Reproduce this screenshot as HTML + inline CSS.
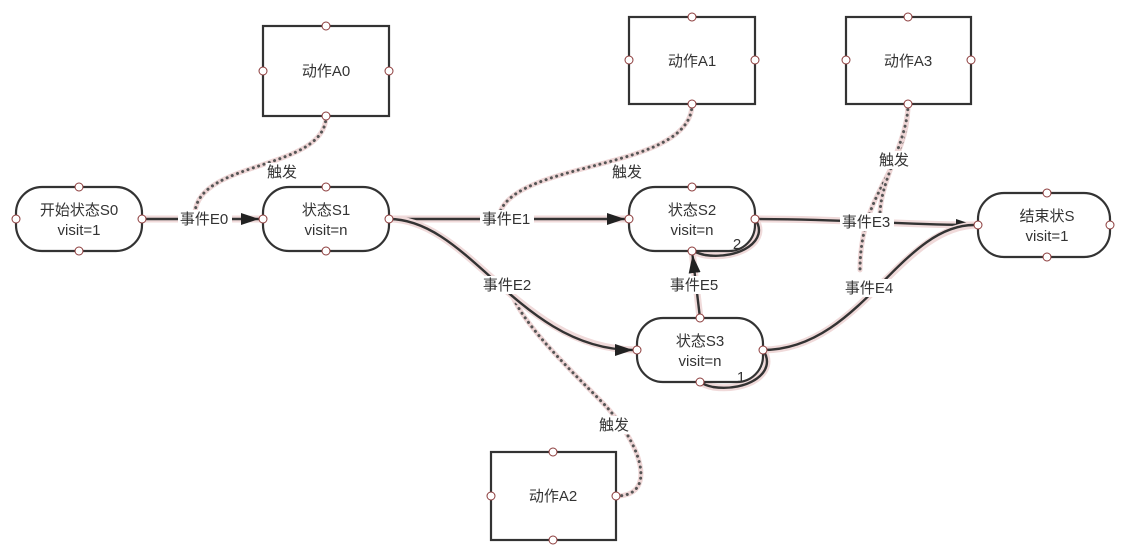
<!DOCTYPE html>
<html><head><meta charset="utf-8"><style>
body{margin:0;background:#fff;width:1139px;height:554px;overflow:hidden}
text{font-family:"Liberation Sans","Noto Sans CJK SC",sans-serif;font-size:15px;fill:#333}
.n{fill:#fff;stroke:#333;stroke-width:2.2}
.p{fill:#fff;stroke:#8b3a3a;stroke-width:1}
.e{fill:none;stroke:#f0dada;stroke-width:7}
.ei{fill:none;stroke:#333;stroke-width:2.4}
.d{fill:none;stroke:#eed6d6;stroke-width:5;stroke-linecap:round}
.di{fill:none;stroke:#555;stroke-width:3;stroke-dasharray:0.1 5.5;stroke-linecap:round}
.lb{fill:#fff}
</style></head><body>
<svg width="1139" height="554" xmlns="http://www.w3.org/2000/svg">
<defs><marker id="a" markerWidth="18" markerHeight="12" refX="18" refY="6" orient="auto" markerUnits="userSpaceOnUse" viewBox="0 0 18 12"><path d="M0,0L18,6L0,12z" fill="#222"/></marker></defs>
<g>
<path class="d" d="M326,116 C326,170 200,160 195,212"/>
<path class="di" d="M326,116 C326,170 200,160 195,212"/>
<path class="d" d="M692,104 C692,170 520,160 500,212"/>
<path class="di" d="M692,104 C692,170 520,160 500,212"/>
<path class="d" d="M908,104 C908,170 860,190 860,270"/>
<path class="di" d="M908,104 C908,170 860,190 860,270"/>
<path class="d" d="M908,104 C908,140 880,180 880,215"/>
<path class="di" d="M908,104 C908,140 880,180 880,215"/>
<path class="d" d="M616,496 C660,496 640,440 600,400 C560,360 520,320 510,290"/>
<path class="di" d="M616,496 C660,496 640,440 600,400 C560,360 520,320 510,290"/>
</g>
<g>
<path class="e" d="M142,219 L263,219"/><path class="ei" d="M142,219 L259,219" marker-end="url(#a)"/>
<path class="e" d="M389,219 L629,219"/><path class="ei" d="M389,219 L625,219" marker-end="url(#a)"/>
<path class="e" d="M389,219 C470,219 520,350 637,350"/><path class="ei" d="M389,219 C470,219 520,350 633,350" marker-end="url(#a)"/>
<path class="e" d="M755,219 C850,219 900,225 978,225"/><path class="ei" d="M755,219 C850,219 900,225 974,225" marker-end="url(#a)"/>
<path class="e" d="M763,350 C860,350 900,225 978,225"/><path class="ei" d="M763,350 C860,350 900,225 974,225"/>
<path class="e" d="M700,318 L692,251"/><path class="ei" d="M700,318 L692.5,255" marker-end="url(#a)"/>
<path class="e" d="M755,219 C770,240 740,260 705,255 C700,254 695,252 692,251"/><path class="ei" d="M755,219 C770,240 740,260 705,255 C700,254 695,252 692,251"/>
<path class="e" d="M763,350 C778,372 748,392 713,387 C708,386 703,384 700,382"/><path class="ei" d="M763,350 C778,372 748,392 713,387 C708,386 703,384 700,382"/>
</g>
<rect class="n" x="16" y="187" width="126" height="64" rx="26"/>
<rect class="n" x="263" y="187" width="126" height="64" rx="26"/>
<rect class="n" x="629" y="187" width="126" height="64" rx="26"/>
<rect class="n" x="637" y="318" width="126" height="64" rx="26"/>
<rect class="n" x="978" y="193" width="132" height="64" rx="26"/>
<rect class="n" x="263" y="26" width="126" height="90"/>
<rect class="n" x="629" y="17" width="126" height="87"/>
<rect class="n" x="846" y="17" width="125" height="87"/>
<rect class="n" x="491" y="452" width="125" height="88"/>
<g text-anchor="middle">
<text x="79" y="215">开始状态S0</text><text x="79" y="235">visit=1</text>
<text x="326" y="215">状态S1</text><text x="326" y="235">visit=n</text>
<text x="692" y="215">状态S2</text><text x="692" y="235">visit=n</text>
<text x="700" y="346">状态S3</text><text x="700" y="366">visit=n</text>
<text x="1047" y="221">结束状S</text><text x="1047" y="241">visit=1</text>
<text x="326" y="76">动作A0</text>
<text x="692" y="66">动作A1</text>
<text x="908" y="66">动作A3</text>
<text x="553" y="501">动作A2</text>
</g>
<g text-anchor="middle">
<rect class="lb" x="178" y="210" width="54" height="18"/><text x="204" y="224">事件E0</text>
<rect class="lb" x="480" y="210" width="54" height="18"/><text x="506" y="224">事件E1</text>
<rect class="lb" x="481" y="276" width="54" height="18"/><text x="507" y="290">事件E2</text>
<rect class="lb" x="840" y="213" width="54" height="18"/><text x="866" y="227">事件E3</text>
<rect class="lb" x="843" y="279" width="54" height="18"/><text x="869" y="293">事件E4</text>
<rect class="lb" x="668" y="276" width="54" height="18"/><text x="694" y="290">事件E5</text>
<rect class="lb" x="266" y="163" width="32" height="18"/><text x="282" y="177">触发</text>
<rect class="lb" x="611" y="163" width="32" height="18"/><text x="627" y="177">触发</text>
<rect class="lb" x="878" y="151" width="32" height="18"/><text x="894" y="165">触发</text>
<rect class="lb" x="598" y="416" width="32" height="18"/><text x="614" y="430">触发</text>
<text x="737" y="249">2</text><text x="741" y="382">1</text>
</g>
<g>
<circle class="p" cx="79" cy="187" r="4"/><circle class="p" cx="79" cy="251" r="4"/><circle class="p" cx="16" cy="219" r="4"/><circle class="p" cx="142" cy="219" r="4"/>
<circle class="p" cx="326" cy="187" r="4"/><circle class="p" cx="326" cy="251" r="4"/><circle class="p" cx="263" cy="219" r="4"/><circle class="p" cx="389" cy="219" r="4"/>
<circle class="p" cx="692" cy="187" r="4"/><circle class="p" cx="692" cy="251" r="4"/><circle class="p" cx="629" cy="219" r="4"/><circle class="p" cx="755" cy="219" r="4"/>
<circle class="p" cx="700" cy="318" r="4"/><circle class="p" cx="700" cy="382" r="4"/><circle class="p" cx="637" cy="350" r="4"/><circle class="p" cx="763" cy="350" r="4"/>
<circle class="p" cx="1047" cy="193" r="4"/><circle class="p" cx="1047" cy="257" r="4"/><circle class="p" cx="978" cy="225" r="4"/><circle class="p" cx="1110" cy="225" r="4"/>
<circle class="p" cx="326" cy="26" r="4"/><circle class="p" cx="326" cy="116" r="4"/><circle class="p" cx="263" cy="71" r="4"/><circle class="p" cx="389" cy="71" r="4"/>
<circle class="p" cx="692" cy="17" r="4"/><circle class="p" cx="692" cy="104" r="4"/><circle class="p" cx="629" cy="60" r="4"/><circle class="p" cx="755" cy="60" r="4"/>
<circle class="p" cx="908" cy="17" r="4"/><circle class="p" cx="908" cy="104" r="4"/><circle class="p" cx="846" cy="60" r="4"/><circle class="p" cx="971" cy="60" r="4"/>
<circle class="p" cx="553" cy="452" r="4"/><circle class="p" cx="553" cy="540" r="4"/><circle class="p" cx="491" cy="496" r="4"/><circle class="p" cx="616" cy="496" r="4"/>
</g>
</svg>
</body></html>
